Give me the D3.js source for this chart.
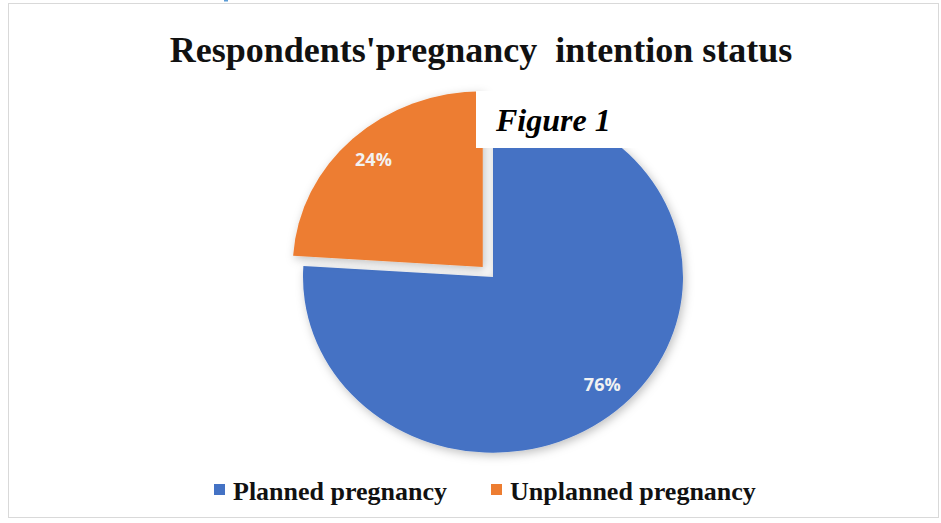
<!DOCTYPE html>
<html>
<head>
<meta charset="utf-8">
<script src="https://cdn.jsdelivr.net/npm/d3@7"></script>
<style>
  body { margin: 0; background: #fff; }
  svg { display: block; }
</style>
</head>
<body>
<div id="chart"></div>
<script>
// data
var labels = ["Planned pregnancy", "Unplanned pregnancy"];
var values = [76, 24];
var colors = ["#4472C4", "#ED7D31"];
var titleText = "Respondents'pregnancy  intention status";

var width = 941, height = 523;
var cx = 493, cy = 277, radius = 190, squash = 0.925, explode = 15;

var svg = d3.select("#chart").append("svg")
    .attr("width", width)
    .attr("height", height);

var defs = svg.append("defs");
var shadow = defs.append("filter").attr("id", "shadow")
    .attr("x", "-20%").attr("y", "-20%").attr("width", "140%").attr("height", "140%");
shadow.append("feDropShadow")
    .attr("dx", 2).attr("dy", 3).attr("stdDeviation", 5)
    .attr("flood-color", "#000").attr("flood-opacity", 0.25);

// frame
svg.append("rect")
    .attr("x", 8.5).attr("y", 3.5)
    .attr("width", 930).attr("height", 514)
    .attr("fill", "#fff")
    .attr("stroke", "#d9d9d9");

// stray link fragment at the very top
svg.append("rect").attr("x", 224).attr("y", 0).attr("width", 4).attr("height", 1.5).attr("fill", "#5b9bd5");

svg.append("text")
    .attr("x", 481).attr("y", 62)
    .attr("text-anchor", "middle")
    .style("font-family", "'Liberation Serif', 'Times New Roman', serif")
    .style("font-weight", "bold")
    .style("font-size", "36px")
    .style("white-space", "pre")
    .attr("xml:space", "preserve")
    .attr("fill", "#111")
    .text(titleText);

var pie = d3.pie().sort(null).value(function(d) { return d; });
var arc = d3.arc().innerRadius(0).outerRadius(radius);
var arcs = pie(values);

function offset(d, i) {
    if (i === 0) return [0, 0];
    var a = (d.startAngle + d.endAngle) / 2;
    return [Math.sin(a) * explode, -Math.cos(a) * explode];
}

var g = svg.append("g")
    .attr("transform", "translate(" + cx + "," + cy + ") scale(1," + squash + ")");

g.selectAll("path.slice")
    .data(arcs)
    .enter().append("path")
    .attr("class", "slice")
    .attr("d", arc)
    .attr("fill", function(d, i) { return colors[i]; })
    .attr("filter", "url(#shadow)")
    .attr("transform", function(d, i) {
        var o = offset(d, i);
        return "translate(" + o[0] + "," + o[1] + ")";
    });

// percentage labels
var labelArc = d3.arc().innerRadius(radius * 0.84).outerRadius(radius * 0.84);
svg.selectAll("text.pct")
    .data(arcs)
    .enter().append("text")
    .attr("class", "pct")
    .attr("x", function(d, i) { return cx + labelArc.centroid(d)[0] + offset(d, i)[0]; })
    .attr("y", function(d, i) { return cy + (labelArc.centroid(d)[1] + offset(d, i)[1]) * squash; })
    .attr("dy", "0.35em")
    .attr("text-anchor", "middle")
    .style("font-family", "'Open Sans', 'DejaVu Sans', sans-serif")
    .style("font-weight", "bold")
    .style("font-size", "18px")
    .attr("fill", "#f2f2f2")
    .text(function(d) { return d.data + "%"; });

// Figure 1 box
svg.append("rect")
    .attr("x", 476).attr("y", 91)
    .attr("width", 172).attr("height", 57)
    .attr("fill", "#fff");
svg.append("text")
    .attr("x", 496).attr("y", 131)
    .style("font-family", "'Liberation Serif', 'Times New Roman', serif")
    .style("font-weight", "bold")
    .style("font-style", "italic")
    .style("font-size", "32px")
    .attr("fill", "#000")
    .text("Figure 1");

// legend
var legend = svg.append("g").attr("class", "legend");
var legendX = [214, 491];
legend.selectAll("rect")
    .data(labels)
    .enter().append("rect")
    .attr("x", function(d, i) { return legendX[i]; })
    .attr("y", 484)
    .attr("width", 11).attr("height", 11)
    .attr("fill", function(d, i) { return colors[i]; });
legend.selectAll("text")
    .data(labels)
    .enter().append("text")
    .attr("x", function(d, i) { return legendX[i] + 19; })
    .attr("y", 500)
    .style("font-family", "'Liberation Serif', 'Times New Roman', serif")
    .style("font-weight", "bold")
    .style("font-size", "26px")
    .attr("fill", "#111")
    .text(function(d) { return d; });
</script>
</body>
</html>
